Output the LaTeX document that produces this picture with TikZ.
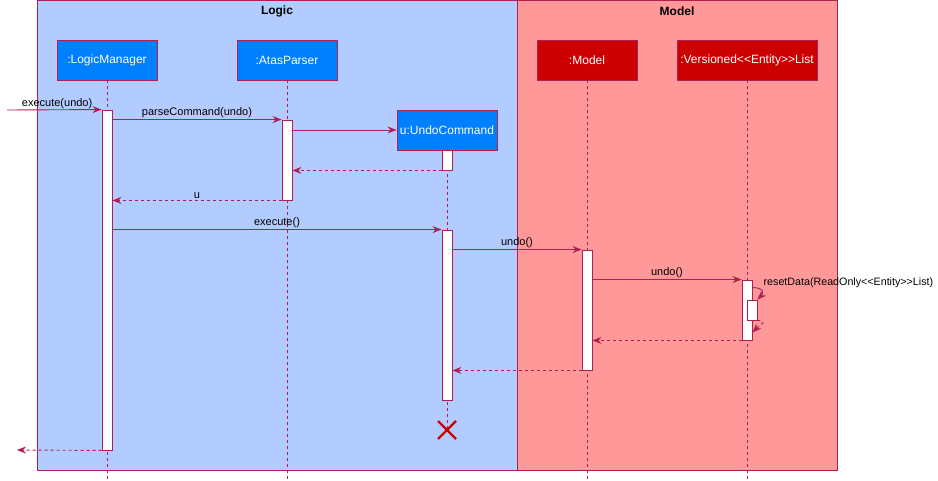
\documentclass[tikz,border=0pt]{standalone}
\usepackage{fontspec}
\setmainfont{Liberation Sans}
\usetikzlibrary{arrows.meta,calc}
\definecolor{edge}{RGB}{176,31,84}
\definecolor{logicbg}{RGB}{179,204,255}
\definecolor{modelbg}{RGB}{255,153,153}
\definecolor{logicbox}{RGB}{0,127,255}
\definecolor{modelbox}{RGB}{204,0,0}
\tikzset{
  frame/.style={draw=edge, line width=0.9pt},
  ftitle/.style={font=\fontsize{12}{14}\selectfont\bfseries, inner sep=0pt},
  part/.style={draw=edge, line width=0.9pt, text=white, minimum width=100pt, minimum height=40pt, inner sep=0pt, font=\fontsize{12}{14}\selectfont},
  life/.style={draw=edge, line width=0.8pt, dash pattern=on 3pt off 3pt},
  act/.style={draw=edge, fill=white, line width=0.9pt, minimum width=10pt, inner sep=0pt},
  msg/.style={draw=edge, line width=0.9pt, -{Stealth[length=9pt,width=7pt]}},
  ret/.style={msg, dash pattern=on 3pt off 3pt},
  lbl/.style={font=\fontsize{11}{13}\selectfont, inner sep=1pt, text=black}
}
\begin{document}
\begin{tikzpicture}[x=1pt,y=-1pt]
\useasboundingbox (0,0) rectangle (938,481);
% frames
\fill[logicbg] (37,0.5) rectangle (517,470);
\fill[modelbg] (517,0.5) rectangle (837,470);
\draw[frame] (37,0.5) rectangle (517,470);
\draw[frame] (517,0.5) rectangle (837,470);
\node[ftitle] (tlogic) at (277,11) {Logic};
\node[ftitle] (tmodel) at (677,11) {Model};
% participants
\node[part, fill=logicbox] (lm) at (107,60) {:LogicManager};
\node[part, fill=logicbox] (ap) at (287,60) {:AtasParser};
\node[part, fill=logicbox] (uc) at (447,130) {u:UndoCommand};
\node[part, fill=modelbox] (md) at (587,60) {:Model};
\node[part, fill=modelbox, minimum width=140pt] (vl) at (747,60) {:Versioned<{}<Entity>{}>List};
% lifelines
\coordinate (bot) at (0,481);
\coordinate (xmark) at (447,430);
\draw[life] (lm.south) -- (lm.south |- bot);
\draw[life] (ap.south) -- (ap.south |- bot);
\draw[life] (uc.south) -- (xmark);
\draw[life] (md.south) -- (md.south |- bot);
\draw[life] (vl.south) -- (vl.south |- bot);
% activations
\node[act, minimum height=340pt] (lmA) at (107,280) {};
\node[act, minimum height=80pt] (apA) at (287,160) {};
\node[act, minimum height=20pt] (ucA1) at (447,160) {};
\node[act, minimum height=170pt] (ucA2) at (447,315) {};
\node[act, minimum height=120pt] (mA) at (587,310) {};
\node[act, minimum height=60pt] (vA) at (747,310) {};
\node[act, minimum height=20pt] (vB) at (752,310) {};
% messages
\coordinate (in) at (7,110);
\coordinate (out) at (17,450);
\draw[msg] (in) -- node[lbl, above, pos=0.53] {execute(undo)} (lmA.north west);
\draw[msg] (apA.north west -| lmA.east) -- node[lbl, above] {parseCommand(undo)} (apA.north west);
\draw[msg] (uc.west -| apA.east) -- (uc.west);
\draw[ret] (ucA1.south west) -- (ucA1.south west -| apA.east);
\draw[ret] (apA.south west) -- node[lbl, above] {u} (apA.south west -| lmA.east);
\draw[msg] (ucA2.north west -| lmA.east) -- node[lbl, above] {execute()} (ucA2.north west);
\draw[msg] (mA.north west -| ucA2.east) -- node[lbl, above, pos=0.5] {undo()} (mA.north west);
\draw[msg] (vA.north west -| mA.east) -- node[lbl, above] {undo()} (vA.north west);
\draw[msg] ($(vA.north east)+(0,8)$) .. controls +(12,0) and +(6,-6) .. (vB.north east);
\node[lbl, anchor=west, inner sep=0pt, font=\fontsize{10.7}{13}\selectfont] (rd) at ($(vA.north east)+(11,3)$) {resetData(ReadOnly<{}<Entity>{}>List)};
\draw[ret] (vB.south east) .. controls +(12,0) and +(6,-6) .. ($(vA.south east)+(0,-8)$);
\draw[ret] (vA.south west) -- (vA.south west -| mA.east);
\draw[ret] (mA.south west) -- (mA.south west -| ucA2.east);
\draw[ret] (lmA.south west) -- (out);
% destroy
\draw[modelbox, line width=2.2pt] ($(xmark)+(-9,-9)$) -- ($(xmark)+(9,9)$) ($(xmark)+(-9,9)$) -- ($(xmark)+(9,-9)$);
\end{tikzpicture}
\end{document}
